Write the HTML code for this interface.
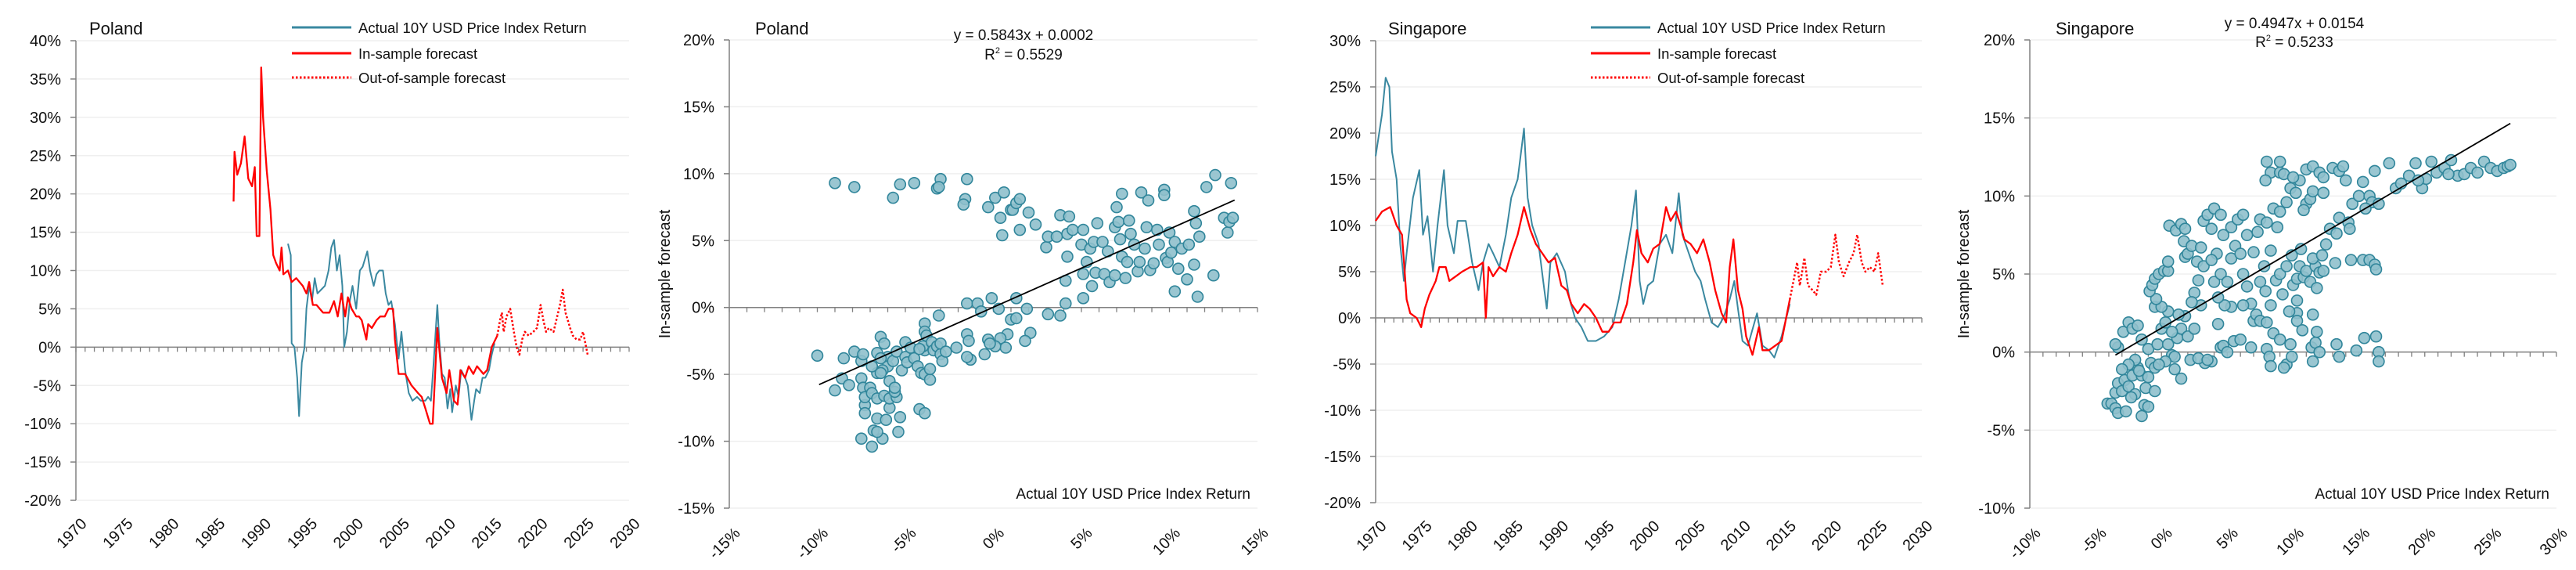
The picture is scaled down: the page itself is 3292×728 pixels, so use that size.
<!DOCTYPE html>
<html><head><meta charset="utf-8"><title>Poland & Singapore forecasts</title>
<style>
html,body{margin:0;padding:0;background:#fff;}
svg{display:block;font-family:"Liberation Sans",sans-serif;}
</style></head>
<body>
<svg id="root" width="3292" height="728" viewBox="0 0 3292 728" xmlns="http://www.w3.org/2000/svg"></svg>
<script>
// ---------- DATA ----------
const yearTicks = [1970,1975,1980,1985,1990,1995,2000,2005,2010,2015,2020,2025,2030];
const plLineYTicks = [40,35,30,25,20,15,10,5,0,-5,-10,-15,-20];
const sgLineYTicks = [30,25,20,15,10,5,0,-5,-10,-15,-20];
const plScatYTicks = [20,15,10,5,0,-5,-10,-15];
const plScatXTicks = [-15,-10,-5,0,5,10,15];
const sgScatYTicks = [20,15,10,5,0,-5,-10];
const sgScatXTicks = [-10,-5,0,5,10,15,20,25,30];

const plActualYears = [1993.0,1993.3,1993.4,1993.7,1994.0,1994.2,1994.5,1994.8,1995.0,1995.3,1995.6,1995.9,1996.2,1996.6,1997.0,1997.4,1997.7,1998.0,1998.3,1998.6,1998.9,1999.1,1999.4,1999.7,2000.0,2000.4,2000.8,2001.1,2001.6,2001.9,2002.3,2002.6,2002.9,2003.3,2003.6,2003.9,2004.2,2004.6,2005.0,2005.3,2005.7,2006.1,2006.5,2007.0,2007.4,2007.9,2008.2,2008.5,2008.8,2009.2,2009.4,2009.7,2010.0,2010.3,2010.6,2010.8,2011.2,2011.5,2011.8,2012.2,2012.5,2012.9,2013.2,2013.4,2013.8,2014.1,2014.4,2014.8,2015.1,2015.4];
const plActualVals = [13.5,12,0.5,0,-4,-9,-2,0,5,8,6,9,7,7.5,8,10,13,14,10,12,8,0,2,6,8,5,10,10.5,12.5,10,8,9.5,10,10,7,5.5,6,3,-1.5,2,-3,-6,-7,-6.5,-7,-7,-6.5,-7,-2,5.5,1,-3.5,-4,-8,-5.5,-8.5,-5,-6.5,-3,-4,-5,-9.5,-7,-5.5,-6,-4,-4,-3,-1,0.5];
const plInYears = [1987.1,1987.2,1987.5,1987.9,1988.3,1988.7,1989.1,1989.4,1989.6,1989.9,1990.1,1990.3,1990.7,1991.1,1991.4,1991.7,1992.1,1992.3,1992.5,1993.0,1993.4,1993.9,1994.6,1995.0,1995.3,1995.7,1996.1,1996.8,1997.5,1998.0,1998.4,1998.8,1999.2,1999.5,1999.9,2000.4,2000.7,2001.0,2001.5,2001.7,2002.1,2002.6,2003.0,2003.5,2003.9,2004.4,2004.6,2005.0,2005.7,2006.4,2007.1,2007.5,2007.9,2008.4,2008.7,2009.2,2009.7,2010.2,2010.5,2011.0,2011.4,2011.7,2012.2,2012.6,2013.1,2013.5,2014.2,2014.6,2015.1,2015.7];
const plInVals = [19,25.5,22.5,24,27.5,22,21,23.5,14.5,14.5,36.5,30,23,18,12,11,10,13,9.5,10,8.5,9,8,7,8.5,5.5,5.5,4.5,4.5,6,4,7,4,6.5,5,4,4,3.5,1,3,2.5,3.5,4,4,5,5,1,-3.5,-3.5,-5,-6,-6.5,-8,-10,-10,2.5,-4,-6,-3,-7,-7.5,-3,-4,-2.5,-3.5,-2.5,-3.5,-3,0,1.5];
const plOutYears = [2015.7,2016.0,2016.2,2016.4,2016.7,2017.1,2017.5,2017.8,2018.1,2018.4,2018.7,2019.1,2019.6,2020.0,2020.4,2020.7,2021.0,2021.3,2021.8,2022.1,2022.5,2022.8,2023.1,2023.6,2023.9,2024.3,2024.7,2025.0,2025.5];
const plOutVals = [1.5,3.5,4.5,2,4,5,2,0,-1,1,2,1.5,2,2.5,5.5,3.5,2,2.5,2,3.5,5.5,7.5,4.5,2.5,1.5,1,1,2,-1];

const sgActualYears = [1970.0,1970.7,1971.1,1971.5,1971.8,1972.3,1972.7,1973.1,1973.4,1974.1,1974.8,1975.2,1975.7,1976.3,1976.8,1977.5,1977.9,1978.6,1979.0,1979.9,1980.6,1981.3,1981.8,1982.4,1982.9,1983.6,1984.3,1984.9,1985.6,1986.3,1986.7,1987.2,1987.9,1988.4,1988.8,1989.2,1989.9,1990.8,1991.3,1991.9,1992.6,1993.3,1994.2,1995.1,1996.0,1996.7,1997.4,1998.1,1998.6,1999.0,1999.4,1999.9,2000.5,2001.2,2001.9,2002.6,2003.3,2003.7,2004.4,2005.1,2005.7,2006.2,2006.9,2007.6,2008.2,2008.9,2009.4,2009.8,2010.3,2010.9,2011.9,2012.5,2013.2,2013.8,2014.6,2015.5];
const sgActualVals = [17.5,22,26,25,18,15,8,4,7,13,16,9,11,5,10,16,10,7,10.5,10.5,6,3,6,8,7,5.5,9,13,15,20.5,13,10,8,4,1,6,7,5,2,0,-1,-2.5,-2.5,-2,-1,2,6,10,13.8,4,1.5,3.5,4,8,9,7,13.5,9,7,5,4,2,-0.5,-1,0,2,4,1,-2.5,-3,0.5,-3,-3.5,-4.3,-2,1.5];
const sgInYears = [1970.0,1970.7,1971.6,1972.3,1972.9,1973.4,1973.8,1974.5,1975.0,1975.4,1975.9,1976.6,1977.0,1977.7,1978.1,1978.8,1979.5,1980.4,1981.1,1981.8,1982.1,1982.4,1982.9,1983.6,1984.3,1984.9,1985.6,1986.3,1987.0,1987.6,1988.3,1989.0,1989.7,1990.4,1991.0,1991.5,1992.2,1992.9,1993.5,1994.2,1994.9,1995.6,1996.2,1996.9,1997.6,1998.3,1998.7,1999.2,1999.9,2000.5,2001.2,2001.9,2002.4,2003.0,2003.5,2003.9,2004.6,2005.3,2006.0,2006.7,2007.3,2008.0,2008.5,2008.9,2009.3,2009.8,2010.3,2010.7,2011.4,2012.1,2012.5,2013.2,2013.9,2014.6,2015.5];
const sgInVals = [10.5,11.5,12,10,9,2,0.5,0,-1,1,2.5,4,5.5,5.5,4,4.5,5,5.5,5.5,6,0,5.5,4.5,5.5,5,7,9,12,9.5,8,7,6,6.5,3.5,3,1.5,0.5,1.5,1,0,-1.5,-1.5,-0.5,-0.5,1.5,6,9.5,7,6,7.5,8,12,10.5,11.5,10,8.5,8,7,8.5,6,3,0.5,-0.5,5.5,8.5,3,1,-2,-4,-1,-3.5,-3.5,-3,-2.5,2];
const sgOutYears = [2015.5,2015.9,2016.3,2016.6,2017.1,2017.5,2018.0,2018.4,2018.9,2019.5,2020.0,2020.5,2020.9,2021.4,2022.0,2022.5,2022.9,2023.4,2023.8,2024.3,2024.8,2025.2,2025.7];
const sgOutVals = [2,4,6,3.5,6.5,3.5,3,2.5,5,5,5.5,9,6,4.5,6,7,9,6,5,5.5,5,7,3.5];

const plScatX = [-9.0,-7.9,-5.7,-5.3,-4.5,-3.2,-3.0,-3.1,-1.5,-1.6,-1.7,-0.3,0.1,0.6,0.4,0.5,1.0,1.1,1.3,1.5,1.5,2.0,2.4,
 -1.5,-0.9,-0.7,-0.1,0.3,1.3,1.0,1.3,1.9,2.1,1.8,0.8,0.4,0.7,0.1,-0.3,-0.2,-0.5,-1.3,-1.5,-1.5,-1.4,-2.1,-3.1,
 -10.0,-9.0,-8.6,-8.5,-8.2,-7.9,-7.5,-7.4,-7.5,-7.4,-7.3,-7.3,-7.3,-7.5,-6.9,-6.6,-6.8,-6.3,-6.6,-7.0,-6.9,-6.6,-6.2,-6.1,-5.9,-5.9,-5.5,-5.6,-5.9,-5.6,-6.6,-6.9,-6.6,-6.4,-6.2,-6.0,-6.0,-5.7,-5.5,-5.3,-5.4,-5.2,-5.0,-4.9,-5.0,-4.7,-4.5,-4.3,-4.2,-3.9,-4.1,-3.9,-3.6,-3.6,-3.9,-4.0,-3.9,-3.9,-3.8,-3.5,-3.4,-3.2,-3.0,-3.0,-2.9,-2.7,-4.2,-6.4,-6.3,-6.4,
 3.0,3.1,3.6,3.8,4.3,4.2,4.2,4.1,4.1,3.8,3.1,4.5,5.1,5.0,5.1,5.1,5.3,5.5,5.7,5.9,5.6,5.8,6.2,6.3,6.6,6.9,6.5,6.9,7.0,7.1,7.2,7.3,7.3,7.5,7.6,7.7,7.8,8.0,8.2,8.3,8.4,8.6,8.7,8.8,8.9,9.1,9.3,9.4,9.7,9.7,9.8,9.9,10.0,10.1,10.3,10.3,10.5,10.7,11.1,11.4,11.4,11.5,11.7,11.6,11.0,12.1,12.5,12.6,13.1,13.3,13.5,13.4,13.6];
const plScatY = [9.3,9.0,8.2,9.2,9.3,8.9,9.6,9.0,9.6,8.1,7.7,7.5,8.2,8.6,6.7,5.4,7.3,7.3,7.8,8.1,5.8,7.1,6.2,
 0.3,0.3,-0.3,0.7,-0.1,0.7,-0.9,-0.8,-0.1,-1.9,-2.5,-2.0,-2.3,-3.0,-2.9,-2.4,-2.7,-3.5,-3.9,-3.7,-2.0,-2.5,-3.0,-0.6,
 -3.6,-6.2,-5.3,-3.8,-5.8,-3.3,-4.0,-3.5,-5.3,-6.0,-7.3,-7.9,-6.7,-9.8,-10.4,-8.3,-9.2,-9.8,-9.3,-6.0,-6.4,-6.8,-6.6,-8.4,-7.5,-6.8,-6.7,-6.3,-5.5,-6.0,-4.9,-4.4,-3.4,-2.2,-2.7,-3.7,-4.4,-4.0,-3.3,-8.2,-9.3,-4.7,-3.7,-4.1,-2.6,-3.0,-3.8,-4.4,-7.6,-7.9,-4.9,-5.0,-5.4,-4.6,-3.2,-2.9,-1.2,-1.8,-2.1,-2.6,-3.2,-2.9,-3.5,-2.7,-4.0,-3.3,-3.1,-3.8,-4.7,-4.9,
 4.5,5.3,5.3,6.9,6.8,5.5,3.8,2.0,0.3,-0.6,-0.5,5.8,5.8,4.7,0.7,2.5,3.4,4.4,4.9,6.3,1.6,2.6,4.9,2.5,1.9,2.4,4.2,6.0,7.5,6.4,5.1,8.5,3.8,2.2,3.4,6.5,5.5,4.7,2.7,3.4,8.6,4.4,6.0,8.0,2.8,3.3,5.8,4.7,8.8,8.4,3.7,3.4,5.6,4.1,4.9,1.2,2.9,4.4,4.7,7.2,3.2,6.3,5.3,0.8,2.1,9.0,2.4,9.9,6.7,5.6,9.3,6.4,6.7];

const sgScatX = [-4.1,-3.8,-3.5,-3.3,-3.5,-3.3,-3.0,-2.8,-2.7,-2.5,-2.2,-2.0,-1.8,-1.5,-1.3,-1.0,-1.2,-1.5,-2.0,-2.5,-3.0,-3.3,-3.5,-2.9,-2.5,-2.2,-1.8,-1.5,-1.0,-0.8,-0.5,-0.3,0.0,0.3,0.5,0.8,1.0,1.2,1.5,1.8,2.0,2.2,0.5,1.0,0.3,-1.0,1.5,-0.5,0.0,-0.4,-0.5,-1.7,-2.3,-0.2,0.8,1.3,
 -0.9,-0.7,-0.5,-0.2,0.2,0.5,0.5,0.6,1.1,1.5,1.8,1.7,1.8,2.0,2.3,2.7,3.0,3.2,2.8,3.2,3.5,3.8,4.0,4.5,4.7,4.2,3.8,4.0,4.5,5.0,5.3,5.6,5.3,5.8,6.2,6.5,6.0,6.2,6.5,6.8,6.2,5.3,4.8,4.3,3.0,2.5,2.3,4.3,2.5,7.0,7.2,7.5,8.0,7.0,7.3,7.5,8.0,8.5,8.8,8.3,7.8,7.5,7.9,8.3,8.7,9.0,9.2,9.5,9.9,10.0,10.3,10.5,10.8,11.0,11.3,11.7,12.0,11.5,12.3,11.8,10.6,9.0,9.5,9.8,10.2,10.5,11.0,11.3,10.8,8.0,8.3,7.9,9.0,9.3,9.0,10.0,11.0,11.5,12.0,12.3,11.5,12.3,13.0,13.5,13.8,14.0,14.5,15.0,15.3,15.8,16.0,15.5,16.5,16.2,17.3,17.8,18.2,18.8,19.3,19.8,20.1,20.5,20.9,21.5,22.0,22.5,23.0,23.5,24.0,24.5,25.0,25.5,26.0,26.3,26.5,19.5,21.8,
 12.8,12.5,12.2,13.5,13.3,14.2,14.3,13.2,14.4,15.3,15.8,16.2,16.3,
 4.5,4.7,5.0,5.5,6.0,6.8,8.0,8.2,8.3,8.5,9.0,9.5,9.3,9.8,9.9,10.3,10.3,10.3,9.7,10.7,11.5,11.4,11.7,11.5,11.8,12.0,13.3,13.5,14.8,15.4,16.3,16.5,16.5,3.8,3.3,2.8,3.5];
const sgScatY = [-3.3,-3.3,-3.6,-3.9,-2.6,-2.0,-2.5,-1.8,-3.8,-2.2,-1.5,-2.7,-1.0,-4.1,-3.4,-3.5,-2.3,-1.5,-0.5,-0.8,-1.1,0.3,0.5,1.3,1.9,1.5,1.7,0.8,0.2,-0.7,-1.0,0.5,1.5,1.9,0.5,-0.2,-0.3,0.9,1.5,2.3,1.0,-0.5,2.6,-1.1,-0.6,-1.6,-1.7,2.9,2.9,3.4,-2.5,-1.2,-2.9,-0.8,1.3,2.4,
 3.9,4.3,4.7,5.0,5.2,5.2,5.8,8.1,7.8,8.2,7.9,7.1,6.1,6.3,6.8,5.8,6.7,5.5,4.6,8.4,8.8,7.9,9.2,8.8,7.5,6.3,5.9,4.5,5.0,4.5,6.0,6.8,8.0,8.5,8.8,7.5,6.3,5.0,4.2,3.1,3.0,2.9,3.0,3.5,3.0,3.8,3.2,1.8,1.5,2.0,2.4,2.0,1.9,6.4,7.7,8.5,8.3,9.2,8.0,6.5,5.5,4.5,3.9,3.0,4.6,5.0,3.7,5.5,6.2,4.3,4.7,5.5,4.8,5.2,4.5,5.5,5.1,6.0,5.2,4.1,6.6,9.0,9.6,10.5,10.2,11.0,9.5,9.8,9.1,12.2,11.5,11.0,11.5,11.4,12.2,11.2,11.7,11.9,11.5,11.2,10.3,10.2,11.8,11.6,11.9,11.0,9.5,10.0,10.9,10.0,9.6,9.2,9.5,11.6,12.1,10.5,10.8,11.3,12.1,10.5,11.1,12.2,11.5,11.8,12.3,11.3,11.4,11.8,11.5,12.2,11.8,11.6,11.8,11.9,12.0,11.0,11.4,
 7.9,6.9,6.2,8.6,7.6,8.3,7.9,5.7,5.9,5.9,5.9,5.6,5.3,
 0.3,0.4,0.0,0.7,0.8,0.3,0.2,-0.3,-0.9,1.2,0.8,-0.8,-1.0,0.5,-0.3,3.3,2.5,2.0,2.6,1.4,2.4,0.3,0.6,-0.6,1.3,0.0,0.5,-0.3,0.1,0.9,1.0,0.0,-0.6,-0.6,-0.7,-0.4,-0.5];

const plTrend = {slope:0.5843, intercept:0.0002, xFrom:-9.9, xTo:13.7};
const sgTrend = {slope:0.4947, intercept:0.0154, xFrom:-3.5, xTo:26.5};

// ---------- DRAWING ----------
const NS = "http://www.w3.org/2000/svg";
const root = document.getElementById('root');
function mk(tag, attrs, parent){
  const e = document.createElementNS(NS, tag);
  for (const k in attrs) e.setAttribute(k, attrs[k]);
  parent.appendChild(e);
  return e;
}
const TEAL = "#3A88A0", RED = "#FF0000", GRID = "#EFEFEF", AXIS = "#808080";

function txt(parent, x, y, s, size, anchor, name){
  const t = mk('text', {x:x, y:y, 'font-size':size, 'text-anchor':anchor, fill:'#111'}, parent);
  t.textContent = s;
  
  
  return t;
}

function yAxis(g, ticks, x0, x1, sy, suffixName){
  ticks.forEach(v => {
    const gl = mk('line', {x1:x0, x2:x1, y1:sy(v), y2:sy(v), stroke:GRID, 'stroke-width':1.5}, g);
    
    
    const tk = mk('line', {x1:x0-7, x2:x0, y1:sy(v), y2:sy(v), stroke:AXIS, 'stroke-width':1.5}, g);
    
    
    txt(g, x0-19, sy(v)+7, v + '%', 20, 'end', 'y-tick-label');
  });
}

function polyline(g, xs, ys, sx, sy, color, width, dash, name){
  const pts = xs.map((x,i) => sx(x).toFixed(1) + ',' + sy(ys[i]).toFixed(1)).join(' ');
  const p = mk('polyline', {points:pts, fill:'none', stroke:color, 'stroke-width':width, 'stroke-linejoin':'round'}, g);
  if (dash) p.setAttribute('stroke-dasharray', dash);
  
  
}

function lineChart(cfg){
  const g = mk('g', {}, root);
  
  
  const sx = yr => cfg.x0 + (yr - 1970) / 60 * (cfg.x1 - cfg.x0);
  const sy = v => cfg.yBot - (v - cfg.yMin) / (cfg.yMax - cfg.yMin) * (cfg.yBot - cfg.yTop);
  yAxis(g, cfg.yTicks, cfg.x0, cfg.x1, sy);
  const ya = mk('line', {x1:cfg.x0, x2:cfg.x0, y1:cfg.yTop, y2:cfg.yBot, stroke:AXIS, 'stroke-width':1.5}, g);
  
  
  const xa = mk('line', {x1:cfg.x0, x2:cfg.x1, y1:sy(0), y2:sy(0), stroke:AXIS, 'stroke-width':1.5}, g);
  
  
  for (let yr = 1970; yr <= 2030; yr++){
    const t = mk('line', {x1:sx(yr), x2:sx(yr), y1:sy(0), y2:sy(0)+6, stroke:AXIS, 'stroke-width':1.3}, g);
    
    
  }
  yearTicks.forEach(yr => {
    const x = sx(yr) + 15, y = cfg.yBot + 31;
    const t = txt(g, x, y, String(yr), 20, 'end', 'x-tick-label');
    t.setAttribute('transform', 'rotate(-45 ' + x + ' ' + y + ')');
  });
  polyline(g, cfg.actX, cfg.actY, sx, sy, TEAL, 2, null, 'actual-return-line');
  polyline(g, cfg.inX, cfg.inY, sx, sy, RED, 2.3, null, 'in-sample-forecast-line');
  polyline(g, cfg.outX, cfg.outY, sx, sy, RED, 2.5, '2.5,2.5', 'out-of-sample-forecast-line');
  txt(g, cfg.titleX, 44, cfg.title, 22, 'start', 'chart-title');
  // legend
  const lg = mk('g', {}, g);
  
  
  const items = [['Actual 10Y USD Price Index Return', TEAL, null, 35],['In-sample forecast', RED, null, 68],['Out-of-sample forecast', RED, '2.5,2.5', 99]];
  items.forEach(it => {
    const l = mk('line', {x1:cfg.legX, x2:cfg.legX+76, y1:it[3], y2:it[3], stroke:it[1], 'stroke-width':3}, lg);
    if (it[2]) l.setAttribute('stroke-dasharray', it[2]);
    
    
    txt(lg, cfg.legX+85, it[3]+7, it[0], 18.5, 'start', 'legend-entry');
  });
}

function scatterChart(cfg){
  const g = mk('g', {}, root);
  
  
  const sx = v => cfg.x0 + (v - cfg.xMin) / (cfg.xMax - cfg.xMin) * (cfg.x1 - cfg.x0);
  const sy = v => cfg.yBot - (v - cfg.yMin) / (cfg.yMax - cfg.yMin) * (cfg.yBot - cfg.yTop);
  yAxis(g, cfg.yTicks, cfg.x0, cfg.x1, sy);
  const ya = mk('line', {x1:cfg.x0, x2:cfg.x0, y1:cfg.yTop, y2:cfg.yBot, stroke:AXIS, 'stroke-width':1.5}, g);
  
  
  const xa = mk('line', {x1:cfg.x0, x2:cfg.x1, y1:sy(0), y2:sy(0), stroke:AXIS, 'stroke-width':1.5}, g);
  
  
  for (let v = cfg.xMin; v <= cfg.xMax; v++){
    const t = mk('line', {x1:sx(v), x2:sx(v), y1:sy(0), y2:sy(0)+6, stroke:AXIS, 'stroke-width':1.3}, g);
    
    
  }
  cfg.xTicks.forEach(v => {
    const x = sx(v) + 15, y = cfg.yBot + 33;
    const t = txt(g, x, y, v + '%', 20, 'end', 'x-tick-label');
    t.setAttribute('transform', 'rotate(-45 ' + x + ' ' + y + ')');
  });
  cfg.px.forEach((v, i) => {
    const c = mk('circle', {cx:sx(v).toFixed(1), cy:sy(cfg.py[i]).toFixed(1), r:7, fill:'#8FC0CC', 'fill-opacity':0.9, stroke:'#31869B', 'stroke-width':1.6}, g);
    
    
  });
  const tr = cfg.trend;
  const tl = mk('line', {x1:sx(tr.xFrom), x2:sx(tr.xTo), y1:sy((tr.slope*tr.xFrom/100 + tr.intercept)*100), y2:sy((tr.slope*tr.xTo/100 + tr.intercept)*100), stroke:'#000', 'stroke-width':1.8}, g);
  
  
  txt(g, cfg.titleX, 44, cfg.title, 22, 'start', 'chart-title');
  txt(g, cfg.eqX, cfg.eqY1, 'y = ' + tr.slope.toFixed(4) + 'x + ' + tr.intercept.toFixed(4), 19, 'middle', 'trendline-equation');
  const r2 = txt(g, cfg.eqX, cfg.eqY2, '', 19, 'middle', 'r-squared');
  r2.innerHTML = 'R<tspan dy="-8" font-size="11">2</tspan><tspan dy="8"> = ' + cfg.r2 + '</tspan>';
  txt(g, cfg.x1 - 9, 637, 'Actual 10Y USD Price Index Return', 19, 'end', 'x-axis-title');
  const yt = txt(g, cfg.yTitleX, 350, 'In-sample forecast', 20, 'middle', 'y-axis-title');
  yt.setAttribute('transform', 'rotate(-90 ' + cfg.yTitleX + ' 350)');
}

lineChart({name:'poland-time-series', x0:97, x1:804, yTop:52, yBot:639, yMin:-20, yMax:40, yTicks:plLineYTicks,
  actX:plActualYears, actY:plActualVals, inX:plInYears, inY:plInVals, outX:plOutYears, outY:plOutVals,
  title:'Poland', titleX:114, legX:373});
scatterChart({name:'poland-scatter', x0:932, x1:1607, yTop:51, yBot:649, xMin:-15, xMax:15, yMin:-15, yMax:20,
  yTicks:plScatYTicks, xTicks:plScatXTicks, px:plScatX, py:plScatY, trend:plTrend, r2:'0.5529',
  title:'Poland', titleX:965, eqX:1308, eqY1:51, eqY2:76, yTitleX:856});
lineChart({name:'singapore-time-series', x0:1758, x1:2456, yTop:52, yBot:642, yMin:-20, yMax:30, yTicks:sgLineYTicks,
  actX:sgActualYears, actY:sgActualVals, inX:sgInYears, inY:sgInVals, outX:sgOutYears, outY:sgOutVals,
  title:'Singapore', titleX:1774, legX:2033});
scatterChart({name:'singapore-scatter', x0:2594, x1:3267, yTop:51, yBot:649, xMin:-10, xMax:30, yMin:-10, yMax:20,
  yTicks:sgScatYTicks, xTicks:sgScatXTicks, px:sgScatX, py:sgScatY, trend:sgTrend, r2:'0.5233',
  title:'Singapore', titleX:2627, eqX:2932, eqY1:36, eqY2:60, yTitleX:2516});
</script>
</body></html>
